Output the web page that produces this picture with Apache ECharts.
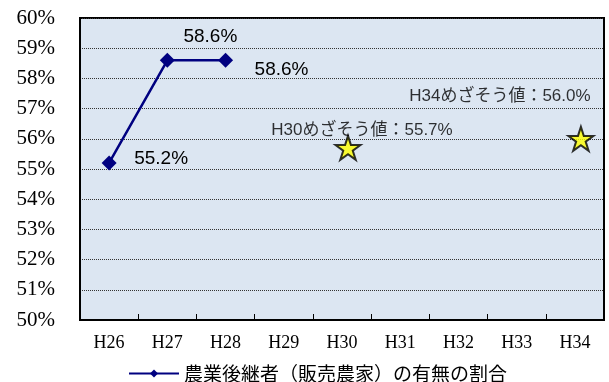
<!DOCTYPE html>
<html><head><meta charset="utf-8">
<script src="https://cdn.jsdelivr.net/npm/echarts@6/dist/echarts.min.js"></script>
<style>html,body{margin:0;padding:0;background:#fff}#c{width:609px;height:382px}</style>
</head><body><div id="c"></div>
<script>
const categories = ['H26','H27','H28','H29','H30','H31','H32','H33','H34'];
const seriesName = '農業後継者（販売農家）の有無の割合';
const actualValues = [55.2, 58.6, 58.6, null, null, null, null, null, null];
const targetCategories = ['H30', 'H34'];
const targetValues = [55.7, 56.0];
const targetLabels = ['H30めざそう値：55.7%', 'H34めざそう値：56.0%'];
const yMin = 50, yMax = 60, yStep = 1;

const lineOffsets = [[52,-4],[43,-24],[56,9]];
const targetOffsets = [[14,-18],[-81,-42]];
const starPath = 'path://M50,0 L61.2,34.5 L97.6,34.5 L68.2,55.9 L79.4,90.5 L50,69.1 L20.6,90.5 L31.8,55.9 L2.4,34.5 L38.8,34.5 Z';

const lineData = actualValues.map((v,i)=> v==null ? null : {
  value: v,
  label: {show:true, position:'inside', offset: lineOffsets[i], formatter: v.toFixed(1)+'%',
    fontFamily:'Liberation Sans, Arial, sans-serif', fontSize:19, color:'#000'}
});
const starData = targetValues.map((v,i)=>({
  value:[targetCategories[i], v],
  label:{show:true, position:'inside', offset: targetOffsets[i], formatter: targetLabels[i],
    fontFamily:'Liberation Sans, Noto Sans CJK JP, sans-serif', fontSize:17, color:'#000'}
}));

const chart = echarts.init(document.getElementById('c'));
chart.setOption({
  animation:false,
  grid:{left:80, right:5, top:18, bottom:62, show:true, backgroundColor:'#dce6f2', borderColor:'#000', borderWidth:2},
  xAxis:{type:'category', data:categories, boundaryGap:true,
    axisLine:{lineStyle:{color:'#000', width:2}},
    axisTick:{show:true, inside:true, length:6, lineStyle:{color:'#000', width:1}},
    axisLabel:{fontFamily:'Liberation Serif, Times New Roman, serif', fontSize:18, color:'#000', margin:14},
    splitLine:{show:false}},
  yAxis:{type:'value', min:yMin, max:yMax, interval:yStep,
    axisLine:{show:true, lineStyle:{color:'#000', width:2}},
    axisTick:{show:false},
    axisLabel:{formatter:'{value}%', fontFamily:'Liberation Serif, Times New Roman, serif', fontSize:21, color:'#000', margin:25},
    splitLine:{show:true, lineStyle:{color:'#333', type:[1,1], width:1}}},
  legend:{show:true, data:[seriesName], top:364, left:128, padding:[0,0,0,0], itemWidth:50, itemHeight:10, itemGap:5,
    textStyle:{fontFamily:'Noto Sans CJK JP, sans-serif', fontSize:19, color:'#000'}},
  series:[
    {name:seriesName, type:'line', data:lineData, symbol:'diamond', symbolSize:15,
      lineStyle:{color:'#000080', width:2.5}, itemStyle:{color:'#000080'}, connectNulls:false},
    {name:'target', type:'scatter', data:starData, symbol:starPath, symbolSize:[25,24], symbolOffset:[6,0],
      itemStyle:{color:'#ffff00', borderColor:'#000', borderWidth:2}}
  ]
});
</script></body></html>
